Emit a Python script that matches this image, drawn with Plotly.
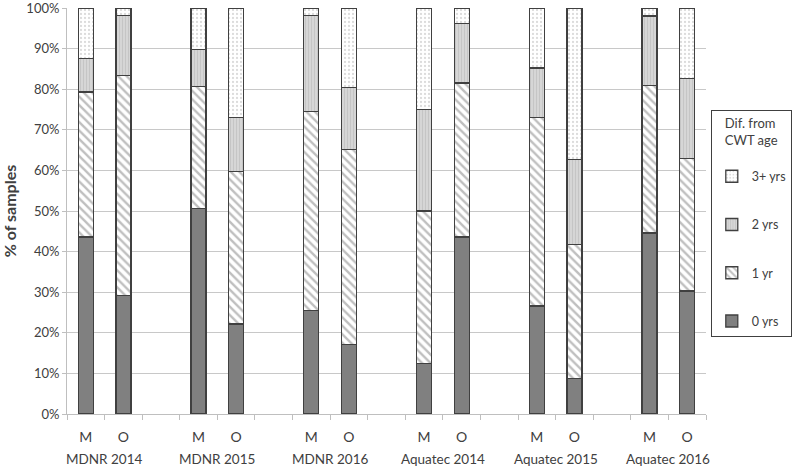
import plotly.graph_objects as go

groups = ["MDNR 2014", "MDNR 2015", "MDNR 2016", "Aquatec 2014", "Aquatec 2015", "Aquatec 2016"]
subs = ["M", "O"]

# segment percentages, order: for each group M then O
yrs0 = [43.6, 29.2, 50.7, 22.2, 25.5, 17.1, 12.5, 43.6, 26.6, 8.7, 44.6, 30.3]
yrs1 = [35.7, 54.1, 29.9, 37.5, 49.0, 48.0, 37.5, 37.9, 46.5, 33.0, 36.3, 32.7]
yrs2 = [8.3, 14.8, 9.1, 13.4, 23.6, 15.3, 25.0, 14.6, 12.1, 21.0, 17.1, 19.6]
yrs3 = [12.4, 1.9, 10.3, 26.9, 1.9, 19.6, 25.0, 3.9, 14.8, 37.3, 2.0, 17.4]

series_names = ["0 yrs", "1 yr", "2 yrs", "3+ yrs"]
series_vals = [yrs0, yrs1, yrs2, yrs3]

y_ticks = [0, 10, 20, 30, 40, 50, 60, 70, 80, 90, 100]
y_ticktext = ["0%", "10%", "20%", "30%", "40%", "50%", "60%", "70%", "80%", "90%", "100%"]

slot = 3
xpos = [g * slot + s for g in range(len(groups)) for s in range(len(subs))]
xlabels = [s for g in groups for s in subs]

styles = [
    dict(color="#808080", pattern=dict(shape="")),
    dict(color="#ffffff", pattern=dict(shape="\\", fgcolor="#808080", bgcolor="#ffffff",
                                        size=6, solidity=0.4, fillmode="overlay")),
    dict(color="#d6d6d6", pattern=dict(shape="|", fgcolor="#b4b4b4", bgcolor="#d6d6d6",
                                        size=3, solidity=0.35, fillmode="overlay")),
    dict(color="#ffffff", pattern=dict(shape=".", fgcolor="#b8b8b8", bgcolor="#ffffff",
                                        size=4, solidity=0.25, fillmode="overlay")),
]

fig = go.Figure()
for i, (name, vals, st) in enumerate(zip(series_names, series_vals, styles)):
    fig.add_trace(go.Bar(
        x=xpos, y=vals, name=name, width=0.4, legendgroup=name,
        legendrank=100 - i,
        marker=dict(color=st["color"], pattern=st["pattern"],
                    line=dict(color="#404040", width=1.3)),
    ))

font_fam = "Lato, Open Sans, sans-serif"
n_slots = len(groups) * slot - 1
for g, name in enumerate(groups):
    fig.add_annotation(x=g * slot + 0.5, y=-0.11, xref="x", yref="paper",
                       text=name, showarrow=False, yanchor="middle",
                       font=dict(family=font_fam, size=13.5, color="#404040"))

fig.update_layout(
    width=800, height=467,
    margin=dict(l=67, r=78.5, t=8, b=52.5),
    barmode="stack",
    plot_bgcolor="white", paper_bgcolor="white",
    font=dict(family=font_fam, size=13, color="#404040"),
    legend=dict(
        traceorder="grouped", x=1.0075, y=0.749, xanchor="left", yanchor="top",
        bordercolor="#404040", borderwidth=1, tracegroupgap=29,
        title=dict(text="Dif. from<br>CWT age<br> ", side="top center",
                   font=dict(size=13, color="#404040")),
        font=dict(size=12.5, color="#404040"),
        itemwidth=30,
    ),
    xaxis=dict(
        range=[-0.5, n_slots - 0.5], automargin=False,
        tickmode="array", tickvals=xpos, ticktext=xlabels, ticks="",
        ticklabelstandoff=10,
        showgrid=False, zeroline=False,
        showline=True, linecolor="#bfbfbf", linewidth=1,
        tickfont=dict(size=14, color="#404040"),
        minor=dict(tickmode="array", tickvals=[i - 0.5 for i in range(n_slots + 1)],
                   ticks="outside", ticklen=5, tickcolor="#bfbfbf", showgrid=False),
    ),
    yaxis=dict(
        range=[0, 100], tickmode="array", tickvals=y_ticks, ticktext=y_ticktext,
        automargin=False, ticklabeloverflow="allow",
        showgrid=True, gridcolor="#c8c8c8", gridwidth=1,
        showline=True, linecolor="#bfbfbf", linewidth=1,
        ticks="outside", ticklen=4, tickcolor="#bfbfbf",
        zeroline=False,
        tickfont=dict(size=13, color="#404040"),
        title=dict(text="<b>% of samples</b>", font=dict(size=16, color="#404040"), standoff=6),
    ),
)

fig.write_html("out.html", config={"displayModeBar": False},
               post_script="document.body.style.margin='0';")
